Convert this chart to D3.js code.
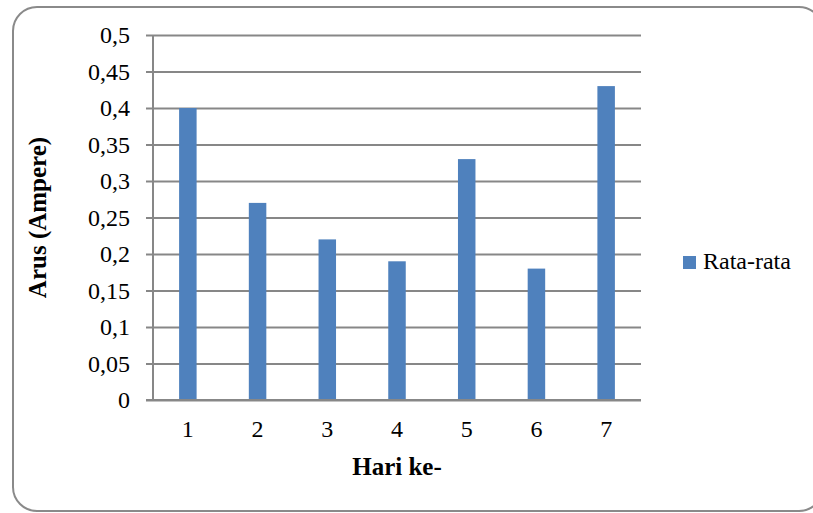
<!DOCTYPE html>
<html>
<head>
<meta charset="utf-8">
<script src="https://cdn.jsdelivr.net/npm/d3@7"></script>
<style>
  html, body { margin: 0; padding: 0; background: #fff; }
  svg { display: block; }
  svg text { font-family: "Liberation Serif", "Noto Serif", "DejaVu Serif", "Times New Roman", Times, serif; }
</style>
</head>
<body>
<svg id="chart" width="813" height="513"></svg>
<script>
// Average current per day
const days = ["1", "2", "3", "4", "5", "6", "7"];
const averages = [0.4, 0.27, 0.22, 0.19, 0.33, 0.18, 0.43];
const yTicks = [0, 0.05, 0.1, 0.15, 0.2, 0.25, 0.3, 0.35, 0.4, 0.45, 0.5];
const seriesName = "Rata-rata";

const svg = d3.select("#chart");
const W = 813, H = 513;
const plot = { left: 153, right: 641, top: 35, bottom: 400 };

// Outer rounded frame
svg.append("rect")
  .attr("x", 13).attr("y", 7)
  .attr("width", W - 13 + 10).attr("height", H - 7 - 2)
  .attr("rx", 24).attr("ry", 24)
  .attr("fill", "none").attr("stroke", "#8a8a8a").attr("stroke-width", 2);

const x = d3.scaleBand().domain(days).range([plot.left, plot.right]).paddingInner(0).paddingOuter(0);
const y = d3.scaleLinear().domain([0, 0.5]).range([plot.bottom, plot.top]);
const fmt = v => String(v).replace(".", ",");

// Horizontal gridlines with outward tick marks
const yAxis = d3.axisLeft(y).tickValues(yTicks).tickFormat(fmt)
  .tickSizeInner(-(plot.right - plot.left)).tickSizeOuter(0).tickPadding(16);
const gy = svg.append("g").attr("transform", `translate(${plot.left},0)`).call(yAxis)
  .attr("font-family", null).attr("font-size", 24);
gy.select(".domain").remove();
gy.selectAll(".tick line")
  .attr("x1", -7)
  .attr("x2", plot.right - plot.left)
  .attr("stroke", "#878787").attr("stroke-width", 2);
gy.selectAll(".tick text")
  .attr("x", -23).attr("fill", "#000");

// Bars
const barW = 17.5;
svg.append("g").selectAll("rect")
  .data(averages)
  .join("rect")
  .attr("x", (d, i) => x(days[i]) + x.bandwidth() / 2 - barW / 2)
  .attr("y", d => y(d))
  .attr("width", barW)
  .attr("height", d => y(0) - y(d))
  .attr("fill", "#4f81bd");

// Vertical value axis line
svg.append("line")
  .attr("x1", plot.left).attr("x2", plot.left)
  .attr("y1", plot.top).attr("y2", plot.bottom)
  .attr("stroke", "#878787").attr("stroke-width", 2);

// Category axis
const xAxis = d3.axisBottom(x).tickSize(0).tickPadding(20);
const gx = svg.append("g").attr("transform", `translate(0,${plot.bottom})`).call(xAxis)
  .attr("font-family", null).attr("font-size", 24);
gx.select(".domain").remove();
gx.selectAll(".tick text").attr("fill", "#000");
svg.append("line")
  .attr("x1", plot.left - 7).attr("x2", plot.right)
  .attr("y1", plot.bottom).attr("y2", plot.bottom)
  .attr("stroke", "#878787").attr("stroke-width", 2);

// Axis titles
svg.append("text")
  .attr("transform", `translate(46,${(plot.top + plot.bottom) / 2}) rotate(-90)`)
  .attr("text-anchor", "middle")
  .attr("font-size", 25).attr("font-weight", "bold")
  .text("Arus (Ampere)");
svg.append("text")
  .attr("x", (plot.left + plot.right) / 2).attr("y", 475)
  .attr("text-anchor", "middle")
  .attr("font-size", 25).attr("font-weight", "bold")
  .text("Hari ke-");

// Legend
const lg = svg.append("g").attr("transform", "translate(683,256)");
lg.append("rect").attr("width", 13).attr("height", 13).attr("fill", "#4f81bd");
lg.append("text").attr("x", 20).attr("y", 13)
  .attr("font-size", 24).text(seriesName);
</script>
</body>
</html>
